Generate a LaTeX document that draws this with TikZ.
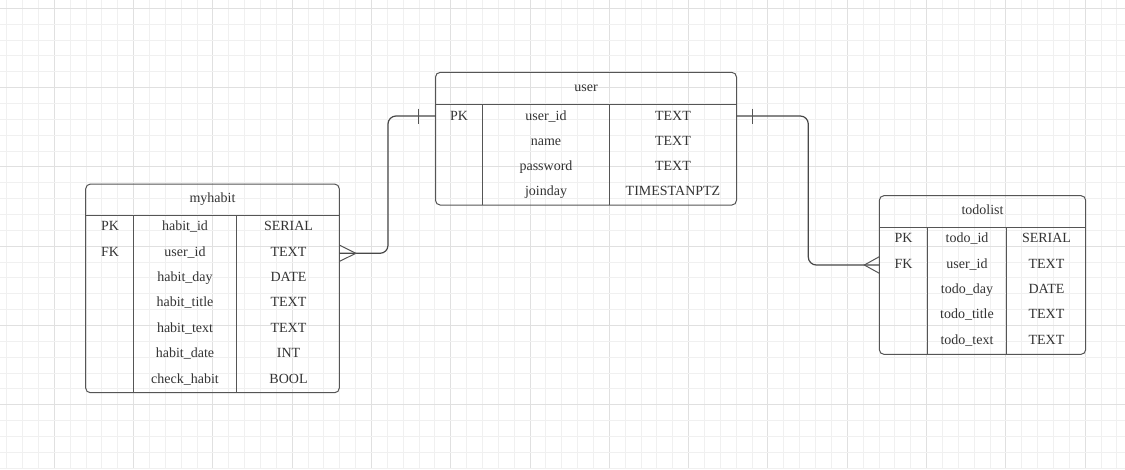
\documentclass[tikz,border=0pt]{standalone}
\usepackage{fontspec}
\setmainfont{Liberation Serif}
\usetikzlibrary{positioning, calc}

\definecolor{gridminor}{HTML}{F0F0F0}
\definecolor{gridmajor}{HTML}{E0E0E0}
\definecolor{erline}{HTML}{555555}
\definecolor{ertext}{HTML}{333333}

\begin{document}
\begin{tikzpicture}[x=0.75pt, y=-0.75pt,
  font=\fontsize{10.5}{12}\selectfont, text=ertext,
  table/.style={draw=erline, line width=0.75pt, rounded corners=3.5pt, inner sep=0pt, outer sep=0pt},
  tline/.style={draw=erline, line width=0.75pt},
  cell/.style={inner sep=0pt, text height=6.9pt, text depth=0pt, anchor=center},
  title/.style={inner sep=0pt, anchor=base},
  rel/.style={draw=erline!85!black, line width=0.9pt, rounded corners=6pt},
  relmark/.style={draw=erline, line width=0.75pt}]
\useasboundingbox (0,0) rectangle (1125,469);
\fill[white] (0,0) rectangle (1125,469);

% background grid
\foreach \i in {0,...,70}{
  \pgfmathsetmacro\gx{6.7+15.86*\i}
  \pgfmathtruncatemacro\m{mod(\i,5)}
  \ifnum\m=3 \draw[gridmajor, line width=0.75pt] (\gx,0) -- (\gx,469);
  \else \draw[gridminor, line width=0.75pt] (\gx,0) -- (\gx,469); \fi
}
\foreach \i in {0,...,29}{
  \pgfmathsetmacro\gy{8.3+15.86*\i}
  \pgfmathtruncatemacro\m{mod(\i,5)}
  \ifnum\m=0 \draw[gridmajor, line width=0.75pt] (0,\gy) -- (1125,\gy);
  \else \draw[gridminor, line width=0.75pt] (0,\gy) -- (1125,\gy); \fi
}

% user
\node[table, minimum width=225.75pt, minimum height=99.5pt] (user) at (586,138.7) {};
\node[title] (user-name) at (586,91) {user};
\draw[tline] (user.west |- 0,104) -- (user.east |- 0,104);
\draw[tline] (482.3,104) -- (user.south -| 482.3,0);
\draw[tline] (609.3,104) -- (user.south -| 609.3,0);
\foreach \k/\n/\t [count=\i] in {PK/user\_id/TEXT, /name/TEXT, /password/TEXT, /joinday/TIMESTANPTZ}{
  \pgfmathsetmacro\ry{115.8+25.1*(\i-1)}
  \node[cell] (u-k\i) at (459,\ry) {\k};
  \node[cell] (u-n\i) at (546,\ry) {\n};
  \node[cell] (u-t\i) at (673,\ry) {\t};
}

% myhabit
\node[table, minimum width=190.2pt, minimum height=156.5pt] (habit) at (212.5,288.4) {};
\node[title] (habit-name) at (212.5,202.8) {myhabit};
\draw[tline] (habit.west |- 0,215) -- (habit.east |- 0,215);
\draw[tline] (133.3,215) -- (habit.south -| 133.3,0);
\draw[tline] (236.7,215) -- (habit.south -| 236.7,0);
\foreach \k/\n/\t [count=\i] in {PK/habit\_id/SERIAL, FK/user\_id/TEXT, /habit\_day/DATE,
    /habit\_title/TEXT, /habit\_text/TEXT, /habit\_date/INT, /check\_habit/BOOL}{
  \pgfmathsetmacro\ry{226+25.45*(\i-1)}
  \node[cell] (h-k\i) at (110,\ry) {\k};
  \node[cell] (h-n\i) at (185,\ry) {\n};
  \node[cell] (h-t\i) at (288.5,\ry) {\t};
}

% todolist
\node[table, minimum width=154.8pt, minimum height=119pt] (todo) at (982.5,275) {};
\node[title] (todo-name) at (982.5,214.5) {todolist};
\draw[tline] (todo.west |- 0,227.3) -- (todo.east |- 0,227.3);
\draw[tline] (927.3,227.3) -- (todo.south -| 927.3,0);
\draw[tline] (1006.7,227.3) -- (todo.south -| 1006.7,0);
\foreach \k/\n/\t [count=\i] in {PK/todo\_id/SERIAL, FK/user\_id/TEXT, /todo\_day/DATE,
    /todo\_title/TEXT, /todo\_text/TEXT}{
  \pgfmathsetmacro\ry{238+25.4*(\i-1)}
  \node[cell] (t-k\i) at (903.5,\ry) {\k};
  \node[cell] (t-n\i) at (967,\ry) {\n};
  \node[cell] (t-t\i) at (1046.5,\ry) {\t};
}

% relations
\coordinate (bendL) at (388,0);
\coordinate (bendR) at (808.3,0);
\coordinate (habitFK) at (0,253.3);
\coordinate (todoFK) at (0,265);
\draw[rel] (user.west |- 0,116) -| (bendL |- habitFK) -- (habit.east |- habitFK);
\draw[rel] (user.east |- 0,116) -| (bendR |- todoFK) -- (todo.west |- todoFK);

% one
\draw[relmark] (user.west |- 0,116) ++(-17,-7.5) -- ++(0,15);
\draw[relmark] (user.east |- 0,116) ++(16,-7.5) -- ++(0,15);
% many
\draw[relmark] (habit.east |- 0,245) -- ($(habit.east |- habitFK)+(16.5,0)$) -- (habit.east |- 0,261.5);
\draw[relmark] (todo.west |- 0,256.7) -- ($(todo.west |- todoFK)+(-15,0)$) -- (todo.west |- 0,273.3);
\end{tikzpicture}
\end{document}
